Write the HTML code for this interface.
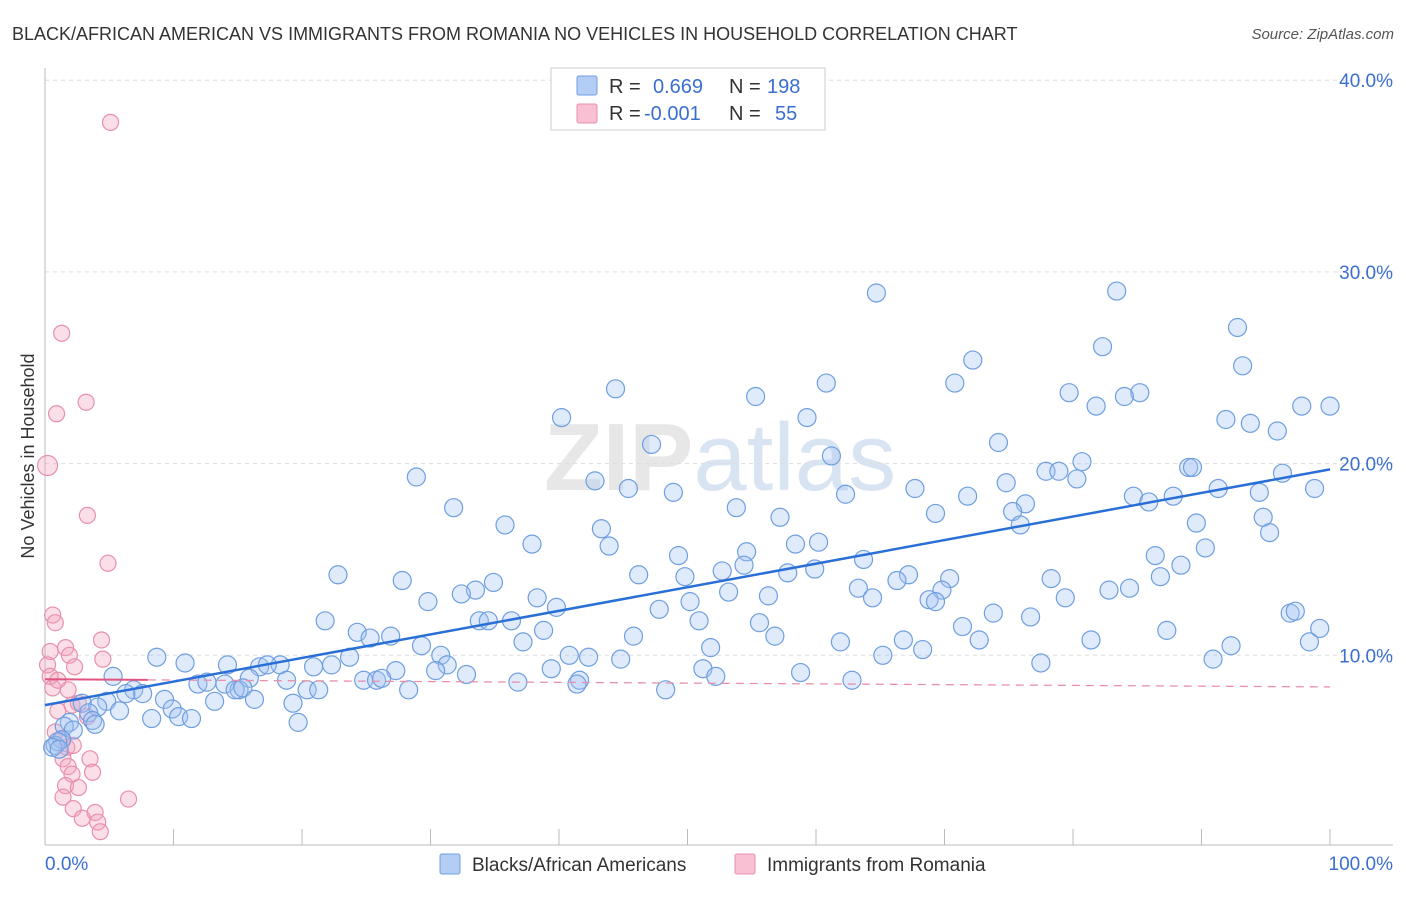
<!DOCTYPE html>
<html><head><meta charset="utf-8"><style>
body{margin:0;background:#fff;font-family:"Liberation Sans",sans-serif;}
svg text{font-family:"Liberation Sans",sans-serif;}
</style></head><body>
<svg width="1406" height="892" viewBox="0 0 1406 892" id="chart">
<text x="12" y="40" font-size="18" fill="#333">BLACK/AFRICAN AMERICAN VS IMMIGRANTS FROM ROMANIA NO VEHICLES IN HOUSEHOLD CORRELATION CHART</text>
<text x="1394" y="39" font-size="15" fill="#555" text-anchor="end" font-style="italic">Source: ZipAtlas.com</text>
<text x="720" y="490" font-size="96" fill="#ddd" text-anchor="middle" font-weight="bold" opacity="0.7">ZIP<tspan fill="#c9d9ef" font-weight="normal">atlas</tspan></text>
<text transform="translate(34,456) rotate(-90)" font-size="18" fill="#333" text-anchor="middle">No Vehicles in Household</text>
<g id="grid"></g><g id="axes"></g><g id="pink"></g><g id="blue"></g><g id="trends"></g>
<g>
<rect x="551" y="68" width="274" height="62" fill="#fff" stroke="#ccc"/>
<rect x="577" y="76" width="20" height="19" fill="#b3cdf5" stroke="#6f9fe0" rx="2"/>
<rect x="577" y="104" width="20" height="19" fill="#f8c0d2" stroke="#e890ab" rx="2"/>
<text x="609" y="93" font-size="20" fill="#333">R = <tspan fill="#3a6fd0" x="653">0.669</tspan><tspan x="729">N = </tspan><tspan fill="#3a6fd0" x="767">198</tspan></text>
<text x="609" y="120" font-size="20" fill="#333">R = <tspan fill="#3a6fd0" x="644">-0.001</tspan><tspan x="729">N = </tspan><tspan fill="#3a6fd0" x="775">55</tspan></text>
</g>
<g>
<rect x="440" y="854" width="20" height="20" fill="#b3cdf5" stroke="#6f9fe0" rx="2"/>
<text x="472" y="871" font-size="19" fill="#333">Blacks/African Americans</text>
<rect x="735" y="854" width="20" height="20" fill="#f8c0d2" stroke="#e890ab" rx="2"/>
<text x="767" y="871" font-size="19" fill="#333">Immigrants from Romania</text>
</g>
</svg>
<script>
const yTicks=[10,20,30,40];
const xTickLabels=["0.0%","100.0%"];
const blueX=[64.7,83.4,92.8,82.3,72.2,93.2,60.8,70.8,44.4,79.7,85.2,55.3,84,81.8,97.8,100,59.3,40.2,91.9,93.8,95.9,74.2,47.2,61.2,80.7,77.9,78.9,89,89.3,96.3,28.9,42.8,74.8,80.3,45.4,48.9,67.7,91.3,98.8,62.3,71.8,84.7,87.8,94.5,31.8,53.8,76.3,85.9,75.3,69.3,57.2,94.8,35.8,89.6,75.9,43.3,95.3,37.9,43.9,58.4,60.2,54.6,90.3,86.4,49.3,63.7,54.4,52.7,88.4,22.8,46.2,49.8,57.8,59.9,67.2,86.8,27.8,34.9,70.4,78.3,66.3,33.5,32.4,63.3,69.8,82.8,84.4,38.3,53.2,64.4,79.4,29.8,56.3,68.8,69.3,39.8,50.2,47.8,73.8,76.7,96.9,97.3,21.8,33.8,34.5,36.3,50.9,55.6,71.4,99.2,24.3,38.8,87.3,25.3,26.9,45.8,56.8,72.7,81.4,37.2,61.9,66.8,98.4,29.3,51.8,92.3,68.3,8.7,23.7,30.8,40.8,42.3,44.8,65.2,90.9,77.5,10.9,14.2,16.7,18.3,17.3,20.9,22.3,31.3,27.3,39.4,51.2,30.4,32.8,58.8,52.2,5.3,15.9,18.8,24.8,25.8,26.2,41.6,41.4,62.8,36.8,11.9,12.6,14.0,15.1,6.9,6.3,7.6,20.4,21.3,28.3,48.3,14.8,15.4,9.3,4.8,13.2,16.3,19.3,2.9,4.1,9.9,5.8,3.4,10.4,8.3,11.4,1.9,3.7,19.7,1.5,3.9,2.2,1.3,0.8,1.0,0.6,1.1];
const blueY=[28.9,29.0,27.1,26.1,25.4,25.1,24.2,24.2,23.9,23.7,23.7,23.5,23.5,23.0,23.0,23.0,22.4,22.4,22.3,22.1,21.7,21.1,21.0,20.4,20.1,19.6,19.6,19.8,19.8,19.5,19.3,19.1,19.0,19.2,18.7,18.5,18.7,18.7,18.7,18.4,18.3,18.3,18.3,18.5,17.7,17.7,17.9,18.0,17.5,17.4,17.2,17.2,16.8,16.9,16.8,16.6,16.4,15.8,15.7,15.8,15.9,15.4,15.6,15.2,15.2,15.0,14.7,14.4,14.7,14.2,14.2,14.1,14.3,14.5,14.2,14.1,13.9,13.8,14.0,14.0,13.9,13.4,13.2,13.5,13.4,13.4,13.5,13.0,13.3,13.0,13.0,12.8,13.1,12.9,12.8,12.5,12.8,12.4,12.2,12.0,12.2,12.3,11.8,11.8,11.8,11.8,11.8,11.7,11.5,11.4,11.2,11.3,11.3,10.9,11.0,11.0,11.0,10.8,10.8,10.7,10.7,10.8,10.7,10.5,10.4,10.5,10.3,9.9,9.9,10.0,10.0,9.9,9.8,10.0,9.8,9.6,9.6,9.5,9.4,9.5,9.5,9.4,9.5,9.5,9.2,9.3,9.3,9.2,9.0,9.1,8.9,8.9,8.8,8.7,8.7,8.7,8.8,8.7,8.5,8.7,8.6,8.5,8.6,8.5,8.2,8.2,8.0,8.0,8.2,8.2,8.2,8.2,8.2,8.3,7.7,7.6,7.6,7.7,7.5,7.5,7.3,7.2,7.1,7.0,6.8,6.7,6.7,6.5,6.6,6.5,6.3,6.4,6.1,5.6,5.3,5.5,5.2,5.1];
const pinkX=[5.1,1.3,3.2,0.9,0.2,3.3,4.9,0.6,0.8,1.6,1.9,4.4,4.5,2.3,0.2,0.4,0.6,1.8,2.1,2.6,1.0,3.3,0.8,1.3,1.7,2.2,1.4,3.5,1.8,2.1,3.7,1.6,2.6,1.4,2.2,3.9,2.9,4.1,4.3,6.5,0.4,1.0];
const pinkY=[37.8,26.8,23.2,22.6,19.9,17.3,14.8,12.1,11.7,10.4,10.0,10.8,9.8,9.4,9.5,8.9,8.3,8.2,7.4,7.5,7.1,6.8,6.0,5.6,5.2,5.3,4.6,4.6,4.2,3.8,3.9,3.2,3.1,2.6,2.0,1.8,1.5,1.3,0.8,2.5,10.2,8.7];
const blueTrend=[7.4,19.7];
const pinkTrend=[8.75,8.35];
const pinkSolidEnd=8;
const X0=45,X1=1330,Y0=847,YPX=19.17;
const sx=v=>X0+(X1-X0)*v/100, sy=v=>Y0-v*YPX;
const NS="http://www.w3.org/2000/svg";
function mk(tag,parent,attrs){const e=document.createElementNS(NS,tag);for(const k in attrs)e.setAttribute(k,attrs[k]);parent.appendChild(e);return e;}
const grid=document.getElementById('grid'),axes=document.getElementById('axes');
yTicks.forEach(t=>{
 const l=mk('line',grid,{x1:X0,x2:1393,y1:sy(t),y2:sy(t),stroke:'#ddd','stroke-dasharray':'4,4'});
 
 
 const tx=mk('text',axes,{x:1393,y:sy(t)+7,'font-size':19,fill:'#3a6fd0','text-anchor':'end'});
 tx.textContent=t.toFixed(1)+'%';
 
 
});
const ax=mk('line',axes,{x1:X0,x2:1393,y1:845,y2:845,stroke:'#bbb'});


const ay=mk('line',axes,{x1:X0,x2:X0,y1:68,y2:845,stroke:'#bbb'});


for(let i=0;i<=10;i++){
 const t=mk('line',axes,{x1:sx(i*10),x2:sx(i*10),y1:829,y2:845,stroke:'#bbb'});
 
 
}
[[0,'start',45],[100,'end',1393]].forEach((d,i)=>{
 const t=mk('text',axes,{x:d[2],y:870,'font-size':19,fill:'#3a6fd0','text-anchor':d[1]});
 t.textContent=xTickLabels[i];
 
 
});
const pg=document.getElementById('pink');
pinkX.forEach((x,i)=>{
 const c=mk('circle',pg,{cx:sx(x),cy:sy(pinkY[i]),r:i==4?10:8,fill:'rgba(244,164,190,0.35)',stroke:'#e890ab','stroke-width':1.2});
 
 
});
const bg=document.getElementById('blue');
blueX.forEach((x,i)=>{
 const c=mk('circle',bg,{cx:sx(x),cy:sy(blueY[i]),r:9,fill:'rgba(164,194,244,0.35)',stroke:'#6f9fe0','stroke-width':1.2});
 
 
});
const tg=document.getElementById('trends');
const pAt=v=>pinkTrend[0]+(pinkTrend[1]-pinkTrend[0])*v/100;
const pd=mk('line',tg,{x1:sx(pinkSolidEnd),y1:sy(pAt(pinkSolidEnd)),x2:sx(100),y2:sy(pinkTrend[1]),stroke:'#e890ab','stroke-width':1.3,'stroke-dasharray':'8,6'});


const ps=mk('line',tg,{x1:sx(0),y1:sy(pinkTrend[0]),x2:sx(pinkSolidEnd),y2:sy(pAt(pinkSolidEnd)),stroke:'#e0557f','stroke-width':2});


const bt=mk('line',tg,{x1:sx(0),y1:sy(blueTrend[0]),x2:sx(100),y2:sy(blueTrend[1]),stroke:'#2a6fd6','stroke-width':2.5});


</script>
</body></html>
